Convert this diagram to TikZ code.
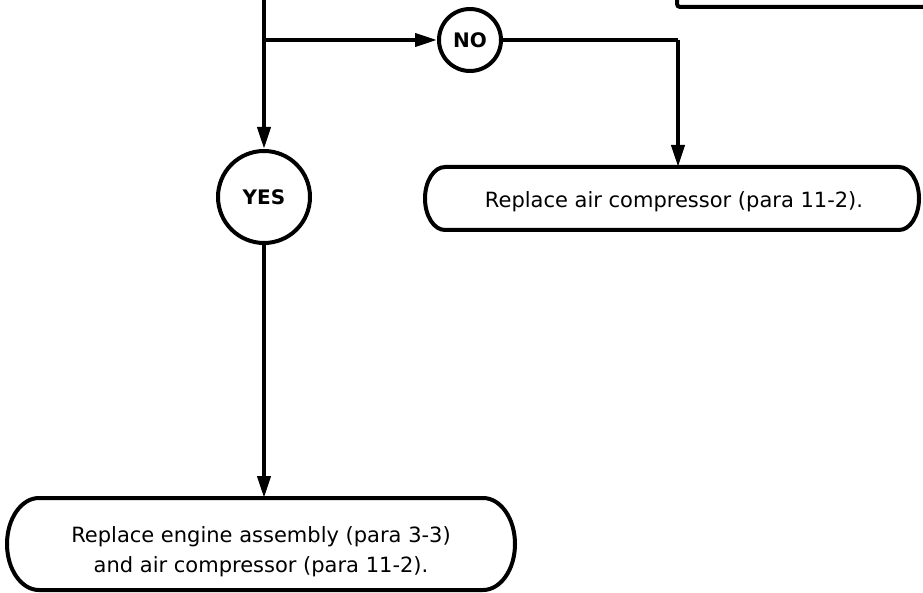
\documentclass[tikz,border=0pt]{standalone}
\usepackage{fontspec}
\setmainfont{DejaVu Sans}
\usetikzlibrary{arrows.meta}
\begin{document}
\begin{tikzpicture}[x=1pt,y=-1pt,
  flowline/.style={line width=4pt,draw=black},
  flowarrow/.style={flowline,-{Triangle[length=22pt,width=13pt]}},
  answer/.style={flowline,circle,inner sep=0pt,fill=white,
    font=\fontsize{20}{24}\selectfont\bfseries},
  actionframe/.style={rectangle,inner sep=0pt,outer sep=0pt},
  actiontext/.style={inner sep=0pt,align=center,font=\fontsize{21}{30}\selectfont}]
  \useasboundingbox (0,0) rectangle (923,593);

  % outline of an action box: straight top and bottom, half-elliptic ends
  \newcommand\actionoutline[3]{% node name, end depth, half height
    \draw[flowline] ([xshift=#2]#1.north west) -- ([xshift=-#2]#1.north east)
      arc[start angle=90,end angle=-90,x radius=#2,y radius=#3]
      -- ([xshift=#2]#1.south west)
      arc[start angle=270,end angle=90,x radius=#2,y radius=#3] -- cycle;}

  % decision circles
  \node[answer,minimum size=62pt] (no) at (470,40) {NO};
  \node[answer,minimum size=92pt] (yes) at (264,197) {YES};

  % action boxes and their texts
  \node[actionframe,minimum width=494pt,minimum height=63pt] (air) at (672,198.5) {};
  \actionoutline{air}{20pt}{31.5pt}
  \node[actiontext] (air text) at (674,202) {Replace air compressor (para 11-2).};
  \node[actionframe,minimum width=508pt,minimum height=92pt] (engine) at (261,544) {};
  \actionoutline{engine}{32pt}{46pt}
  \node[actiontext] (engine text) at (261,552)
    {Replace engine assembly (para 3-3)\\and air compressor (para 11-2).};

  % preceding step, running off the top edge
  \draw[flowline,rounded corners=3pt] (677,-10) -- (677,7) -- (940,7);

  % connectors
  \coordinate (feed) at (264,-5);
  \coordinate (split) at (264,40);
  \coordinate (bend) at (678,40);
  \draw[flowarrow] (feed) -- (yes.north);
  \draw[flowarrow] (split) -- (no.west);
  \draw[flowline] (no.east) -- (bend);
  \draw[flowarrow] (bend) -- (bend |- air.north);
  \draw[flowarrow] (yes.south) -- (yes.south |- engine.north);
\end{tikzpicture}
\end{document}
